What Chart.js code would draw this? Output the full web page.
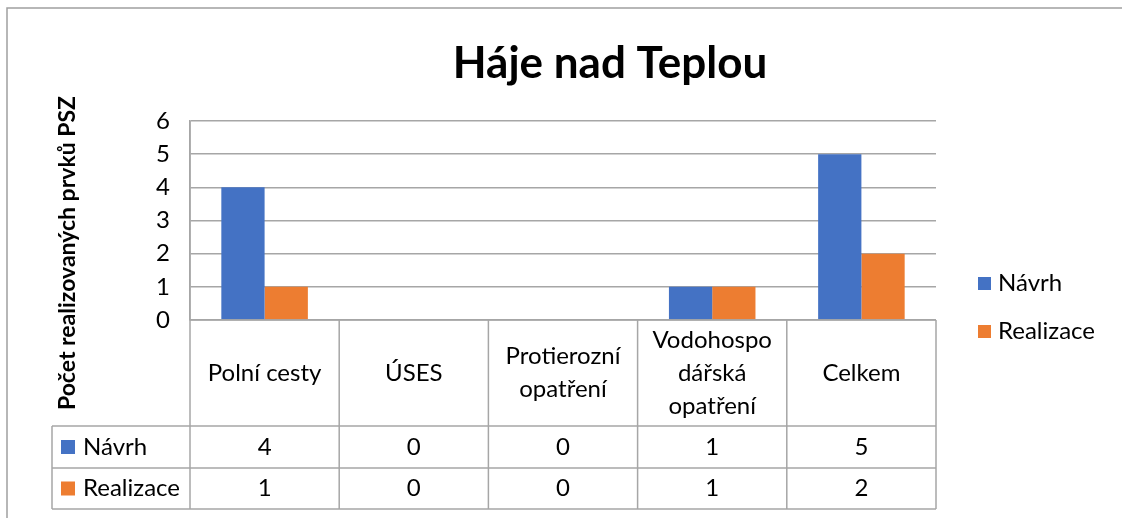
<!DOCTYPE html>
<html>
<head>
<meta charset="utf-8">
<script src="https://cdn.jsdelivr.net/npm/chart.js@4/dist/chart.umd.min.js"></script>
<style>
  html, body { margin: 0; padding: 0; background: #fff; }
  #wrap { width: 1122px; height: 518px; position: relative; }
</style>
</head>
<body>
<div id="wrap"><canvas id="graf"></canvas></div>
<script>
// data
const kategorie = [['Polní cesty'], ['ÚSES'], ['Protierozní', 'opatření'], ['Vodohospo', 'dářská', 'opatření'], ['Celkem']];
const navrh = [4, 0, 0, 1, 5];
const realizace = [1, 0, 0, 1, 2];
const nazvyRad = ['Návrh', 'Realizace'];
const barvy = ['#4472C4', '#ED7D31'];

const pismo = 'Lato, "Open Sans", sans-serif';
const carCol = '#a6a6a6';

// tabulka, titulek a legenda kreslene rucne
const tabulkaPlugin = {
    id: 'tabulka',
    afterDraw(chart) {
        const c = chart.ctx;
        const area = chart.chartArea;
        const x = chart.scales.x;
        const left = area.left, right = area.right, top0 = area.bottom;
        const hlavicka = top0 + 106;
        const r1 = hlavicka + 42;
        const r2 = r1 + 41;
        const levaTab = 52;

        c.save();
        // ramecek grafu
        c.strokeStyle = '#a0a0a0';
        c.lineWidth = 1.5;
        c.beginPath();
        c.moveTo(7, 518); c.lineTo(7, 8); c.lineTo(1122, 8);
        c.stroke();

        // titulek
        c.fillStyle = '#000';
        c.font = 'bold 44px ' + pismo;
        c.textAlign = 'center';
        c.textBaseline = 'alphabetic';
        c.fillText('Háje nad Teplou', 610, 78);

        // nazev osy y
        c.save();
        c.translate(68, 253);
        c.rotate(-Math.PI / 2);
        c.font = 'bold 23px ' + pismo;
        c.textBaseline = 'middle';
        c.fillText('Počet realizovaných prvků PSZ', 0, 0);
        c.restore();

        // legenda vpravo
        c.font = '24px ' + pismo;
        c.textAlign = 'left';
        c.textBaseline = 'middle';
        [283, 331].forEach((ly, i) => {
            c.fillStyle = barvy[i];
            c.fillRect(978, ly - 6, 13, 13);
            c.fillStyle = '#000';
            c.fillText(nazvyRad[i], 998, ly);
        });

        // cary tabulky
        c.strokeStyle = carCol;
        c.lineWidth = 1.5;
        c.beginPath();
        c.moveTo(left, top0); c.lineTo(right, top0);
        c.moveTo(levaTab, hlavicka); c.lineTo(right, hlavicka);
        c.moveTo(levaTab, r1); c.lineTo(right, r1);
        c.moveTo(levaTab, r2); c.lineTo(right, r2);
        c.moveTo(levaTab, hlavicka); c.lineTo(levaTab, r2);
        c.moveTo(left, area.top); c.lineTo(left, r2);
        const sirka = (right - left) / kategorie.length;
        for (let i = 1; i <= kategorie.length; i++) {
            c.moveTo(left + sirka * i, top0); c.lineTo(left + sirka * i, r2);
        }
        c.stroke();

        // popisky kategorii
        c.fillStyle = '#000';
        c.textAlign = 'center';
        c.font = '24px ' + pismo;
        const stredH = (top0 + hlavicka) / 2;
        kategorie.forEach((radky, i) => {
            const cx = x.getPixelForValue(i);
            radky.forEach((t, j) => {
                c.fillText(t, cx, stredH + (j - (radky.length - 1) / 2) * 33);
            });
        });

        // hodnoty
        [navrh, realizace].forEach((rada, k) => {
            const cy = k === 0 ? (hlavicka + r1) / 2 : (r1 + r2) / 2;
            c.textAlign = 'center';
            c.fillStyle = '#000';
            rada.forEach((v, i) => c.fillText(String(v), x.getPixelForValue(i), cy));
            c.fillStyle = barvy[k];
            c.fillRect(61, cy - 7, 14, 14);
            c.fillStyle = '#000';
            c.textAlign = 'left';
            c.fillText(nazvyRad[k], 83, cy);
        });
        c.restore();
    }
};

const ctx = document.getElementById('graf');
new Chart(ctx.getContext('2d'), {
    type: 'bar',
    data: {
        labels: kategorie.map(k => k.join(' ')),
        datasets: [
            { label: nazvyRad[0], data: navrh, backgroundColor: barvy[0] },
            { label: nazvyRad[1], data: realizace, backgroundColor: barvy[1] }
        ]
    },
    options: {
        responsive: true,
        maintainAspectRatio: false,
        animation: false,
        layout: { padding: { top: 121, right: 186, bottom: 198, left: 0 } },
        datasets: { bar: { categoryPercentage: 0.58, barPercentage: 1.0 } },
        plugins: {
            legend: { display: false },
            tooltip: { enabled: false }
        },
        scales: {
            x: { display: false },
            y: {
                min: 0, max: 6,
                ticks: { stepSize: 1, color: '#000', font: { size: 24, family: pismo }, padding: 20 },
                grid: { color: carCol, lineWidth: 1.5, drawTicks: false },
                border: { display: true, color: carCol, width: 1.5 },
                afterFit(scale) { scale.width = 190; }
            }
        }
    },
    plugins: [tabulkaPlugin]
});
</script>
</body>
</html>
